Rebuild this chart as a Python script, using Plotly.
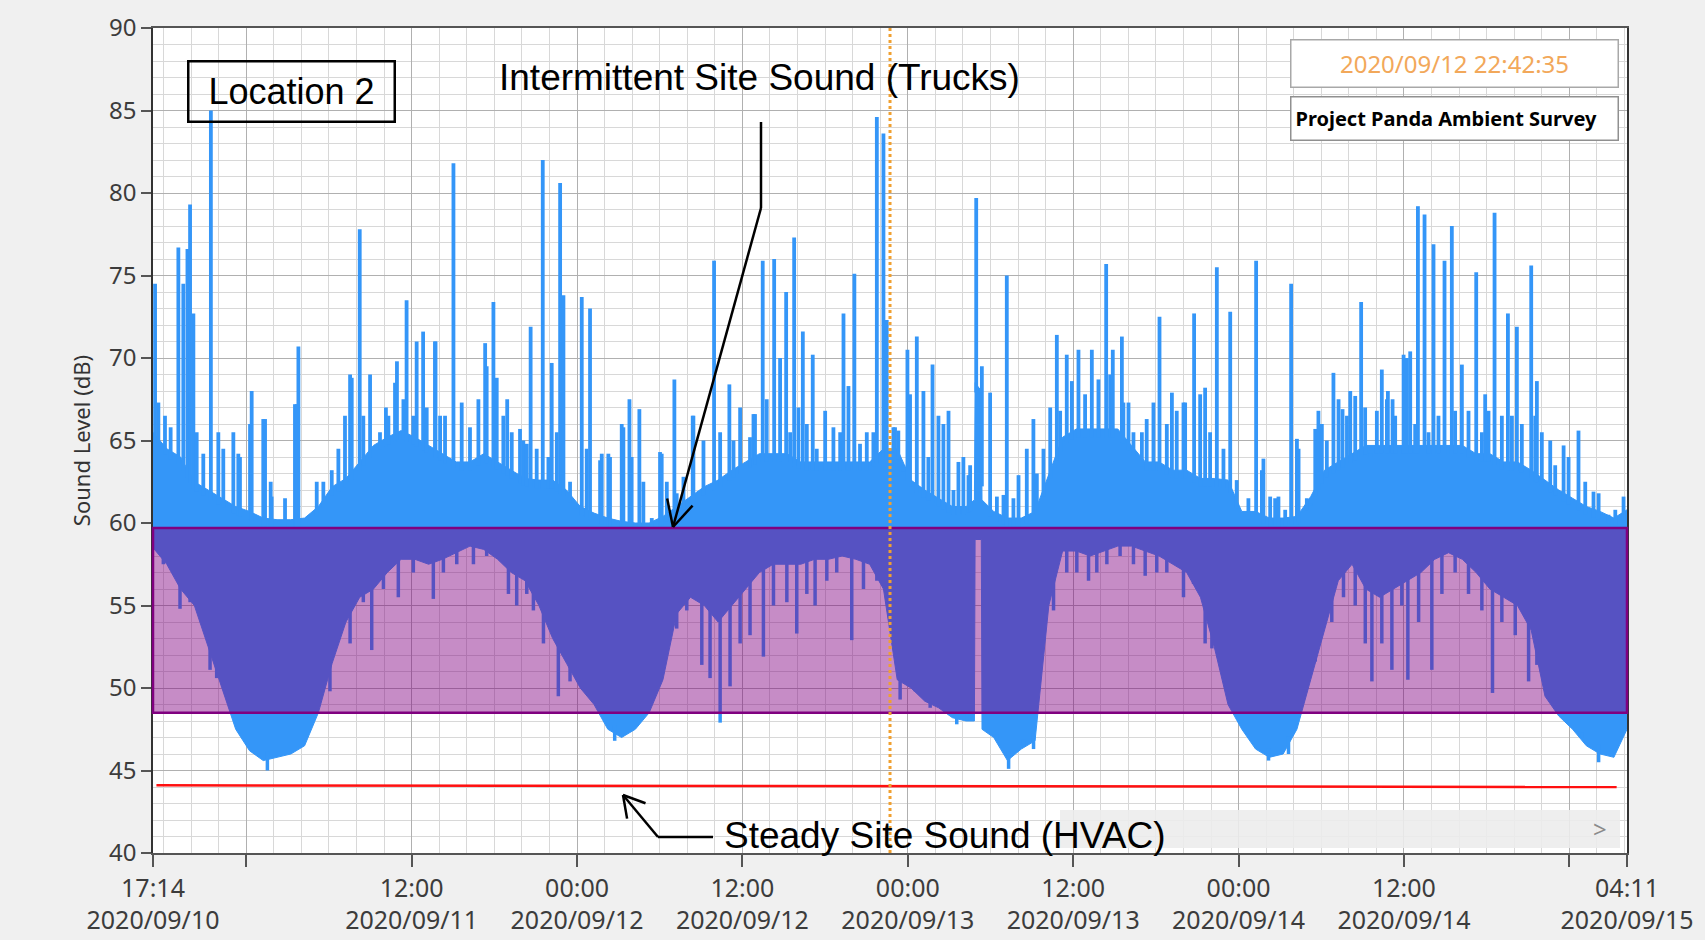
import numpy as np
import pandas as pd
import plotly.graph_objects as go

# ---------------- data ----------------
START = pd.Timestamp("2020-09-10 17:14")
END = pd.Timestamp("2020-09-15 04:11")

# hours since START, top and bottom of the dense (solid) sound-level mass (dB)
env_hours = [0, 1, 2, 3, 4, 5, 6, 7, 8, 9, 10, 11, 12, 13, 14, 15, 16, 17, 18, 19,
             20, 21, 22, 23, 24, 25, 26, 27, 28, 29, 30, 31, 32, 33, 34, 35, 36, 37, 38, 39,
             40, 41, 42, 43, 44, 45, 46, 47, 48, 49, 50, 51, 52, 53, 54, 55, 56, 57, 58, 59,
             59.6, 59.65, 60.1, 60.15, 61, 62, 63, 64, 65, 66, 67, 68, 69, 70, 71, 72, 73, 74,
             75, 76, 77, 78, 79, 80, 81, 82, 83, 84, 85, 86, 87, 88, 89, 90, 91, 92, 93, 94,
             95, 96, 97, 98, 99, 100, 101, 102, 103, 104, 105, 106, 106.95]
env_high = [65.5, 64.5, 64, 62.5, 62, 61.5, 61, 60.7, 60.3, 60.2, 60.2, 60.3, 61, 62.2, 62.7, 63.7, 64.7, 65.2, 65.6, 65.2,
            64.7, 64.2, 63.7, 63.7, 64.2, 63.7, 63.2, 62.7, 62.6, 62.6, 62, 61, 60.6, 60.3, 60.1, 60, 60, 60.4, 61, 61.6,
            62.2, 62.6, 63.2, 63.7, 64.2, 64.2, 64.2, 63.7, 63.7, 63.7, 63.7, 63.7, 63.7, 64.5, 64.5, 62.6, 62, 61.5, 61, 61,
            61.4, 68.5, 68, 61.4, 60.7, 60.3, 60.3, 60.7, 63, 65.2, 65.7, 65.7, 65.7, 65.7, 64.7, 63.7, 63.7, 63.2,
            63.2, 62.7, 62.7, 62.6, 60.7, 60.7, 60.3, 60.3, 60.4, 61.6, 63.2, 63.7, 64.2, 64.7, 64.7, 64.7, 64.7, 64.7, 64.7, 64.7,
            64.7, 64.2, 64.2, 63.7, 63.7, 63.2, 62.6, 62, 61.5, 61, 60.7, 60.3, 60.8]
env_low = [58.5, 57.5, 56, 55, 52.5, 50, 47.5, 46.2, 45.6, 45.8, 46, 46.5, 48.5, 51.5, 54, 55.5, 56, 57, 57.8, 57.8,
           57.5, 57.8, 58.2, 58.6, 58.4, 57.8, 57, 56.5, 55, 53, 51.5, 50, 49, 47.5, 47, 47.5, 48.5, 50.5, 54.5, 55.5,
           55, 54, 55, 56, 57, 57.5, 57.5, 57.5, 57.8, 57.8, 58, 57.8, 57.5, 56, 50.5, 50, 49.2, 48.8, 48.2, 48,
           48, 59, 59, 47.5, 47, 45.6, 46.3, 46.8, 55, 58.3, 58.3, 58, 58.3, 58.6, 58.6, 58.3, 58, 57.5,
           57, 55.5, 52.5, 49, 47.5, 46.3, 45.8, 46, 47.5, 50.5, 53.5, 56.5, 57.5, 56, 55.5, 56, 56.5, 57, 57.8, 58.2,
           57.8, 57, 56, 55.5, 55, 53.5, 49.5, 48.3, 47.5, 46.5, 46, 45.8, 47.5]

# truck peaks and dense fringe above the mass: hours since START, level (dB)
spike_hours = [0.15, 0.39, 0.87, 1.28, 1.84, 2.2, 2.5, 2.69, 2.93, 3.17, 3.65, 4.2, 4.74, 5.1, 5.83, 6.19, 6.31,
               7.04, 7.16, 8.0, 8.13, 8.54, 8.61, 9.58, 10.3, 10.43, 10.55, 11.88, 12.36, 12.97, 13.45, 13.93,
               14.3, 14.42, 15.0, 15.26, 15.75, 16.47, 16.9, 17.08, 17.56, 17.7, 18.17, 18.4, 18.89, 19.13,
               19.6, 19.86, 20.46, 20.5, 20.83, 21.19, 21.8, 22.4, 23.0, 23.61, 24.1, 24.21, 24.7, 24.94,
               25.42, 25.7, 26.03, 26.63, 26.87, 27.12, 27.4, 27.84, 28.28, 28.69, 28.93, 29.3, 29.54, 29.78,
               30.26, 30.62, 31.11, 31.47, 31.71, 32.44, 32.56, 33.04, 33.16, 34.01, 34.13, 34.57, 34.73,
               35.29, 35.58, 36.19, 36.79, 36.91, 37.28, 37.83, 38.0, 38.49, 39.16, 39.21, 39.94, 40.71,
               41.15, 41.82, 42.12, 42.6, 43.32, 43.57, 43.68, 44.24, 44.53, 45.07, 45.5, 45.94, 46.23,
               46.52, 46.83, 47.15, 47.44, 47.87, 48.16, 48.77, 49.37, 49.86, 50.1, 50.46, 50.89, 51.3,
               51.79, 52.27, 52.52, 53.0, 53.24, 53.72, 53.84, 54.08, 54.45, 54.74, 54.93, 55.42, 55.9,
               56.26, 56.56, 56.99, 57.35, 57.72, 58.08, 58.44, 58.8, 59.17, 59.29, 59.73, 60.14, 60.74,
               61.23, 61.71, 61.95, 62.43, 62.8, 63.4, 63.88, 64.13, 64.61, 65.1, 65.58, 65.82, 66.3, 66.67,
               67.15, 67.63, 68.12, 68.6, 69.16, 69.45, 69.64, 70.3, 70.41, 70.78, 71.14, 71.75, 72.1,
               72.59, 73.03, 73.56, 73.93, 74.28, 74.77, 74.89, 75.54, 75.98, 76.34, 76.7, 77.19, 77.67,
               78.16, 78.63, 79.48, 80.04, 80.46, 80.57, 81.06, 81.42, 81.66, 82.15, 82.58, 83.0, 83.12,
               83.72, 83.96, 84.33, 84.56, 84.81, 85.17, 85.65, 86.02, 86.31, 86.63, 86.87, 87.23, 87.66,
               87.95, 88.32, 88.8, 89.16, 89.53, 89.6, 89.94, 90.13, 90.74, 90.98, 91.22, 91.58, 91.78,
               92.26, 92.55, 92.91, 93.27, 93.71, 94.24, 94.48, 94.97, 95.45, 96.01, 96.42, 96.66, 96.9,
               97.34, 97.87, 98.31, 98.6, 98.96, 99.32, 100.0, 100.29, 100.41, 100.77, 101.38, 101.74,
               102.35, 102.71, 103.43, 103.92, 104.52, 104.89, 105.61, 106.1, 106.7]
spike_db = [74.5, 67.3, 66.5, 65.8, 76.7, 74.5, 76.6, 79.3, 72.7, 65.5, 64.2, 85.0, 65.5, 64.5, 65.5, 64.2, 64,
            66, 68, 66.3, 66.3, 62.5, 61.6, 61.5, 67.2, 67.2, 70.7, 62.5, 62.5, 63.2, 64.5, 66.5,
            69, 68.8, 77.8, 66.5, 69, 65.5, 67, 66.5, 68.5, 69.8, 67.5, 73.5, 66.5, 71,
            71.6, 67, 71, 71, 66.5, 66.5, 81.8, 67.3, 65.8, 67.5, 70.9, 69.5, 73.4, 68.8,
            66.5, 67.5, 65.5, 65.7, 65, 64.8, 71.9, 64.5, 82, 64, 69.7, 65.5, 80.6, 73.8,
            62.5, 61, 73.7, 64.5, 73, 63.8, 64.2, 64.2, 64, 66, 65.8, 67.5, 64,
            66.9, 62.5, 60.3, 64.3, 64.2, 62.5, 68.7, 61.8, 62.8, 66.5, 66.5, 65, 75.9,
            65.5, 68.4, 65, 67, 65.2, 66.6, 66.6, 75.9, 67.5, 76, 70, 74, 65.5,
            77.3, 67, 71.6, 66, 70.2, 64.5, 66.8, 65.8, 65.5, 72.7, 68.3, 75.1, 64.8,
            65.5, 65.5, 84.6, 83.6, 72.3, 65.8, 65.8, 65.6, 63.5, 70.5, 67.8, 71.3, 68,
            64, 69.6, 66.5, 66, 66.8, 62, 63.7, 64, 62.9, 63.5, 79.7, 69.5, 67.9,
            61.6, 61.7, 75, 61.5, 62.9, 64.5, 66.3, 63, 64.5, 67, 71.4, 66.8, 70.2, 68.6,
            70.5, 67.8, 70.5, 68.7, 75.7, 69, 70.5, 71.3, 67.3, 67.3, 65.5, 65.5, 66.3,
            67.3, 72.5, 66, 67.9, 66.8, 67.3, 67.3, 72.7, 67.8, 68.2, 65.5, 75.5, 64.5,
            72.8, 62.6, 61.5, 75.9, 63.2, 63.9, 61.6, 61.5, 61.6, 60.8, 74.5, 65.1, 64.5,
            61.5, 61.2, 65.7, 66.8, 66, 65, 69.1, 67.5, 66.9, 66.5, 68, 67.7, 73.4,
            67, 64, 66.8, 69.3, 67.5, 68, 67.5, 66.5, 70.2, 70, 70.4, 66, 79.2,
            78.7, 65.5, 76.9, 66.5, 75.9, 78, 66.8, 69.6, 66.8, 75.2, 65.5, 67.8, 66.8,
            78.8, 66.5, 72.7, 66.5, 71.9, 66, 75.6, 66.5, 68.6, 65.5, 65, 63.5,
            64.7, 64, 65.6, 62.5, 61.9, 61.8, 60.5, 60.8, 61.6]

# brief quiet dips below the mass: hours since START, level (dB)
dip_hours = [0.75, 1.35, 1.96, 2.69, 3.53, 4.14, 4.62, 5.35, 8.3, 12.84, 13.45, 14.3, 15.26, 15.87, 16.72,
             17.8, 18.89, 20.34, 21.07, 22.04, 23.25, 24.21, 25.79, 26.39, 27.12, 27.6, 28.33, 29.41, 30.26,
             33.5, 38.0, 38.73, 39.82, 40.42, 41.15, 41.87, 42.6, 43.32, 44.29, 45.02, 45.99, 46.71, 47.44,
             48.04, 48.89, 49.61, 50.7, 51.55, 52.52, 54.21, 55.3, 56.39, 58.32, 59.05, 61.23, 62.08, 63.17,
             63.89, 65.34, 66.3, 67.03, 67.88, 68.48, 69.21, 70.17, 71.14, 71.99, 72.83, 73.56, 74.77, 75.5,
             76.34, 76.83, 80.94, 82.39, 84.33, 85.53, 86.38, 87.23, 87.96, 88.44, 89.16, 89.89, 90.61,
             91.05, 91.83, 92.79, 93.52, 94.48, 95.45, 96.42, 97.19, 97.87, 98.84, 99.81, 100.41, 103.68,
             104.89, 105.86]
dip_db = [57.5, 57.3, 54.8, 55.2, 54, 51.1, 50.6, 49.8, 45.0, 49.8, 54, 52.7, 55.2, 52.3, 56,
          55.5, 57, 55.4, 57, 57.5, 57.5, 58, 55.7, 55, 55.7, 54.7, 52.7, 49.5, 50.4,
          46.8, 53.6, 54.7, 51.4, 50.6, 47.9, 50.1, 52.7, 53.2, 51.9, 55, 55.2, 53.3, 55.7,
          55, 56.5, 57, 52.9, 56, 56.5, 49.3, 49.8, 48.8, 47.8, 48, 46.8, 45.1, 46.5,
          46.3, 54.7, 57, 57, 56.5, 57, 57.5, 58, 57.5, 56.8, 57, 57, 55.5, 56.3,
          52.7, 52.4, 45.6, 46, 51.6, 54, 55.5, 55, 52.7, 50.4, 52.7, 51.1, 55,
          50.5, 54, 51.1, 55.7, 57, 55.7, 54.7, 49.7, 54, 53.2, 50.4, 51.4, 47,
          45.5, 46]

# steady HVAC level (red line)
hvac_hours = [0.25, 106.2]
hvac_db = [44.1, 44.0]

# highlighted band and cursor
band_low, band_high = 48.5, 59.7
cursor_time = "2020-09-12 22:42:35"

tick_times = ["2020-09-10 17:14", "2020-09-11 00:00", "2020-09-11 12:00", "2020-09-12 00:00",
              "2020-09-12 12:00", "2020-09-13 00:00", "2020-09-13 12:00", "2020-09-14 00:00",
              "2020-09-14 12:00", "2020-09-15 00:00", "2020-09-15 04:11"]
tick_text = ["17:14<br>2020/09/10", "", "12:00<br>2020/09/11", "00:00<br>2020/09/12",
             "12:00<br>2020/09/12", "00:00<br>2020/09/13", "12:00<br>2020/09/13", "00:00<br>2020/09/14",
             "12:00<br>2020/09/14", "", "04:11<br>2020/09/15"]

# ---------------- figure ----------------
BLUE = "#3496F8"


def to_time(hrs):
    return START + pd.to_timedelta(np.asarray(hrs, dtype=float), unit="h")


def segments(hours, bases, tops):
    xs, ys = [], []
    for t, b, v in zip(to_time(hours), bases, tops):
        xs += [t, t, None]
        ys += [b, v, None]
    return xs, ys


env_t = to_time(env_hours)
fig = go.Figure()
fig.add_trace(go.Scatter(x=env_t, y=env_low, mode="lines", line=dict(color=BLUE, width=1),
                         hoverinfo="skip"))
fig.add_trace(go.Scatter(x=env_t, y=env_high, mode="lines", line=dict(color=BLUE, width=1),
                         fill="tonexty", fillcolor=BLUE, hoverinfo="skip"))

sx, sy = segments(spike_hours, np.interp(spike_hours, env_hours, env_high) - 0.5, spike_db)
fig.add_trace(go.Scatter(x=sx, y=sy, mode="lines", line=dict(color=BLUE, width=3.8), hoverinfo="skip"))
dx, dy = segments(dip_hours, np.interp(dip_hours, env_hours, env_low) + 0.5, dip_db)
fig.add_trace(go.Scatter(x=dx, y=dy, mode="lines", line=dict(color=BLUE, width=3.5), hoverinfo="skip"))

fig.add_trace(go.Scatter(x=to_time(hvac_hours), y=hvac_db, mode="lines",
                         line=dict(color="#ff1010", width=2.5), hoverinfo="skip"))

# layout helpers (figure pixel -> paper fraction)
PL, PT, PW, PH = 153, 28, 1474, 825


def px(X):
    return (X - PL) / PW


def py(Y):
    return (PT + PH - Y) / PH


def seg(p, q, width=2.5, color="black"):
    return dict(type="line", xref="paper", yref="paper", x0=px(p[0]), y0=py(p[1]),
                x1=px(q[0]), y1=py(q[1]), line=dict(color=color, width=width), layer="above")


def arrow_path(points, head_len=28, head_ang=27):
    """Polyline through pixel points; open V head at the last point."""
    out = [seg(points[i], points[i + 1]) for i in range(len(points) - 1)]
    tip = np.array(points[-1], float)
    back = np.array(points[-2], float) - tip
    back /= np.hypot(*back)
    for sgn in (1, -1):
        a = np.radians(sgn * head_ang)
        rot = np.array([[np.cos(a), -np.sin(a)], [np.sin(a), np.cos(a)]])
        end = tip + head_len * rot @ back
        out.append(seg(tuple(tip), tuple(end)))
    return out


shapes = [
    dict(type="rect", xref="paper", yref="y", x0=0, x1=1, y0=band_low, y1=band_high,
         fillcolor="rgba(128,0,128,0.45)", line=dict(color="#800080", width=2.5), layer="above"),
    dict(type="line", xref="x", yref="paper", x0=cursor_time, x1=cursor_time, y0=0, y1=1,
         line=dict(color="#F0A030", width=3, dash="dot"), layer="above"),
    dict(type="rect", xref="paper", yref="paper", x0=px(1060), x1=px(1620), y0=py(848), y1=py(810),
         fillcolor="rgba(236,236,236,0.9)", line=dict(width=0), layer="above"),
]
shapes += arrow_path([(761, 122), (761, 208), (673, 527)], head_len=29, head_ang=27)
shapes += arrow_path([(713, 837), (658, 837), (623, 795)], head_len=24, head_ang=30)

ARIAL = "Liberation Sans, Arial, sans-serif"
C = dict(xanchor="center", yanchor="middle")
annotations = [
    dict(xref="paper", yref="paper", x=px(291), y=py(91.5), text="Location 2", showarrow=False,
         font=dict(family=ARIAL, size=36, color="black"), bordercolor="black", borderwidth=2.5,
         borderpad=0, width=204, height=58, **C),
    dict(xref="paper", yref="paper", x=px(759), y=py(78), text="Intermittent Site Sound (Trucks)",
         showarrow=False, font=dict(family=ARIAL, size=37, color="black"), **C),
    dict(xref="paper", yref="paper", x=px(944), y=py(835), text="Steady Site Sound (HVAC)",
         showarrow=False, font=dict(family=ARIAL, size=37, color="black"), **C),
    dict(xref="paper", yref="paper", x=px(1454), y=py(63), text="2020/09/12 22:42:35", showarrow=False,
         font=dict(family="Noto Sans, sans-serif", size=24, color="#F2A85A"), bgcolor="white",
         bordercolor="#a8a8a8", borderwidth=1.5, borderpad=0, width=326, height=46, **C),
    dict(xref="paper", yref="paper", x=px(1454), y=py(118), text="<b>Project Panda Ambient Survey</b>",
         showarrow=False, align="left",
         font=dict(family="Noto Sans, sans-serif", size=20, color="black"), bgcolor="white",
         bordercolor="#909090", borderwidth=1.5, borderpad=4, width=318, height=34, **C),
    dict(xref="paper", yref="paper", x=px(1600), y=py(828), text="&gt;", showarrow=False,
         font=dict(family="Noto Sans, sans-serif", size=24, color="#8a8a8a"), **C),
]

fig.update_layout(
    width=1705, height=940,
    margin=dict(l=PL, r=1705 - PL - PW, t=PT, b=940 - PT - PH, autoexpand=False),
    paper_bgcolor="#f0f0f0", plot_bgcolor="white",
    showlegend=False,
    font=dict(family="Noto Sans, Open Sans, sans-serif", color="#3c3c3c"),
    shapes=shapes, annotations=annotations,
    xaxis=dict(type="date", range=[START, END], tickmode="array", tickvals=tick_times, ticktext=tick_text,
               ticks="outside", ticklen=12, tickwidth=1.5, tickcolor="#555",
               tickfont=dict(size=25, color="#3c3c3c"),
               showgrid=True, gridcolor="#b0b0b0", gridwidth=1.4,
               minor=dict(tickmode="linear", tick0="2020-09-10 00:00", dtick=2 * 3600 * 1000,
                          showgrid=True, gridcolor="#d8d8d8", gridwidth=1, ticks=""),
               showline=True, linecolor="#555", linewidth=1.5, mirror=True, zeroline=False),
    yaxis=dict(range=[40, 90], tickmode="linear", tick0=40, dtick=5,
               ticks="outside", ticklen=10, tickwidth=1.5, tickcolor="#555",
               tickfont=dict(size=24, color="#3c3c3c"),
               showgrid=True, gridcolor="#b0b0b0", gridwidth=1.4,
               minor=dict(dtick=1, showgrid=True, gridcolor="#d8d8d8", gridwidth=1, ticks=""),
               showline=True, linecolor="#333", linewidth=1.5, mirror=True, zeroline=False,
               title=dict(text="Sound Level (dB)", font=dict(size=22, color="#333"), standoff=12)),
)

fig.write_html("out.html", config={"displayModeBar": False},
               post_script="document.body.style.margin='0';")
